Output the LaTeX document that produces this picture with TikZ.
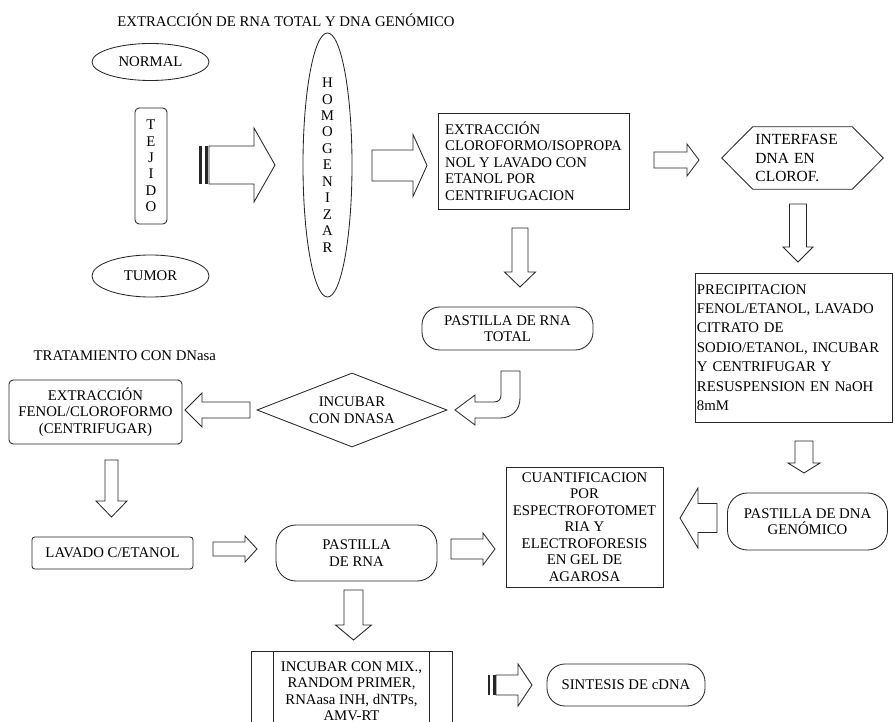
\documentclass[tikz,border=0pt]{standalone}
\usepackage{fontspec}
\setmainfont{Liberation Serif}
\usetikzlibrary{shapes.geometric,calc}
\tikzset{
  lbl/.style={font=\fontsize{10.5}{11.7}\selectfont, align=center, inner sep=1pt},
  ovalbox/.style={lbl, draw=black!85, line width=0.6pt, ellipse, inner sep=0pt},
  stepbox/.style={lbl, draw=black!85, line width=0.6pt, rectangle, inner sep=2pt},
  roundbox/.style={stepbox, rounded corners=3pt},
  pillbox/.style={stepbox, rounded corners=0.5cm},
  decbox/.style={lbl, draw=black!85, line width=0.6pt, diamond, inner sep=0pt},
  blockarrow/.style={draw=black!85, line width=0.6pt, line join=miter},
  stripe/.style={fill=black!85},
}
% block arrow: tail x, tail y, length, body half, head half, head length, rotation
\newcommand{\blockarr}[7]{%
  \draw[blockarrow, shift={(#1,#2)}, rotate=#7]
    (0,-#4) -- (#3-#6,-#4) -- (#3-#6,-#5) -- (#3,0) -- (#3-#6,#5) -- (#3-#6,#4) -- (0,#4) -- cycle;}

\begin{document}
\begin{tikzpicture}[x=0.025cm, y=-0.025cm]
  \useasboundingbox (0,0) rectangle (895,722);
  \clip (0,0) rectangle (895,722);

  % Titles
  \node[lbl] (ttl) at (286,20) {EXTRACCIÓN DE RNA TOTAL Y DNA GENÓMICO};
  \node[lbl, anchor=west] (ttldn) at (32,356) {TRATAMIENTO CON DNasa};

  % Tissue and homogenising
  \node[ovalbox, minimum width=2.925cm, minimum height=0.925cm] (normal) at (150.5,62) {NORMAL};
  \node[ovalbox, minimum width=2.925cm, minimum height=1.05cm] (tumor) at (150.5,276) {TUMOR};
  \node[roundbox, minimum width=0.8cm, minimum height=2.9cm] (tejido) at (151,166) {T\\E\\J\\I\\D\\O};
  \node[ovalbox, minimum width=1.225cm, minimum height=6.6cm] (homog) at (327.5,165) {H\\O\\M\\O\\G\\E\\N\\I\\Z\\A\\R};

  % Top row
  \node[stepbox, align=left, minimum width=4.775cm, minimum height=2.4cm] (extr) at (533.5,161)
    {EXTRACCIÓN\\CLOROFORMO/ISOPROPA\\NOL Y LAVADO CON\\ETANOL POR\\CENTRIFUGACION};
  \node[lbl, align=left, font=\fontsize{11}{13.4}\selectfont, text width=2.35cm, minimum width=4.025cm, minimum height=1.55cm] (interf) at (802.5,158)
    {INTERFASE\\DNA EN\\CLOROF.};
  \draw[blockarrow] (interf.west) -- ([xshift=0.775cm]interf.north west) -- ([xshift=-0.775cm]interf.north east)
    -- (interf.east) -- ([xshift=-0.775cm]interf.south east) -- ([xshift=0.775cm]interf.south west) -- cycle;

  % DNA branch
  \node[stepbox, align=left, font=\fontsize{10.5}{13.8}\selectfont, inner xsep=1pt, text width=4.85cm,
    minimum height=3.725cm] (precip) at (794,347.5)
    {PRECIPITACION\\FENOL/ETANOL, LAVADO\\CITRATO DE\\SODIO/ETANOL, INCUBAR\\Y CENTRIFUGAR Y\\RESUSPENSION EN NaOH\\8mM};
  \node[pillbox, minimum width=4.0cm, minimum height=1.425cm] (pastdna) at (807.5,521.5) {PASTILLA DE DNA\\GENÓMICO};
  \node[stepbox, minimum width=3.925cm, minimum height=3.0cm] (cuant) at (584.5,527)
    {CUANTIFICACION\\POR\\ESPECTROFOTOMET\\RIA Y\\ELECTROFORESIS\\EN GEL DE\\AGAROSA};

  % RNA branch
  \node[pillbox, rounded corners=0.45cm, minimum width=4.275cm, minimum height=1.075cm] (pasttot) at (507.5,328.5) {PASTILLA DE RNA\\TOTAL};
  \node[decbox, aspect=2.57, minimum width=4.75cm, minimum height=1.85cm] (incub) at (352,410) {INCUBAR\\CON DNASA};
  \node[roundbox, minimum width=4.325cm, minimum height=1.6cm] (extrfen) at (95.5,412) {EXTRACCIÓN\\FENOL/CLOROFORMO\\(CENTRIFUGAR)};
  \node[roundbox, rounded corners=2pt, minimum width=4.025cm, minimum height=0.8cm] (lavado) at (112.5,553) {LAVADO C/ETANOL};
  \node[pillbox, minimum width=4.025cm, minimum height=1.4cm] (pastrna) at (356.5,553) {PASTILLA\\DE RNA};
  \node[stepbox, minimum width=5.025cm, minimum height=2.0cm] (incmix) at (351.5,691)
    {INCUBAR CON MIX.,\\RANDOM PRIMER,\\RNAasa INH, dNTPs,\\AMV-RT};
  \draw[blockarrow] ([xshift=0.575cm]incmix.north west) -- ([xshift=0.575cm]incmix.south west);
  \draw[blockarrow] ([xshift=-0.575cm]incmix.north east) -- ([xshift=-0.575cm]incmix.south east);
  \node[pillbox, rounded corners=0.45cm, minimum width=3.95cm, minimum height=1.05cm] (sintesis) at (626,685) {SINTESIS DE cDNA};

  % Block arrows
  \fill[stripe] (199,146) rectangle (201.5,184);
  \fill[stripe] (204.5,146) rectangle (208,184);
  \blockarr{209}{165}{66}{19}{37}{21}{0}
  \blockarr{372}{165.5}{55}{15.5}{31}{14}{0}
  \blockarr{654}{160}{45}{8}{16}{12}{0}
  \blockarr{798}{204}{58}{8.5}{15}{15}{-90}
  \blockarr{520}{228}{59}{8}{15.5}{15}{-90}
  \blockarr{804}{441}{32}{9}{16}{10}{-90}
  \blockarr{717}{518}{37}{14.5}{30}{18}{180}
  \blockarr{250}{410}{65}{8}{17}{17}{180}
  \blockarr{111.5}{460}{57}{6.5}{15.5}{16}{-90}
  \blockarr{213}{549}{44}{7}{13}{12}{0}
  \blockarr{451}{549}{44}{10}{16}{12}{0}
  \blockarr{353.5}{590}{50}{9.5}{18}{15}{-90}
  \fill[stripe] (488,675) rectangle (490,695);
  \fill[stripe] (492.5,675) rectangle (495.5,695);
  \blockarr{496}{685}{36}{10}{21}{14}{0}

  % U-turn arrow from total RNA to DNase
  \draw[blockarrow] (501,371) -- (520,371) -- (520,398) .. controls (520,410) and (512,418) .. (500,418)
    -- (475,418) -- (475,425) -- (455,410) -- (475,395) -- (475,402) -- (494,402)
    .. controls (499,402) and (501,399) .. (501,395) -- cycle;
\end{tikzpicture}
\end{document}
